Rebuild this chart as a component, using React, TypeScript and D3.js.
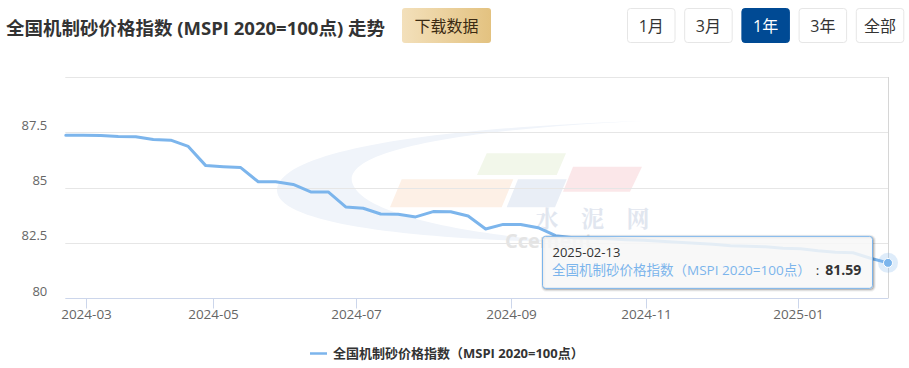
import React from 'react';
import * as d3 from 'd3';

// ---- data ----
const dates = [
  '2024-02-22', '2024-02-29', '2024-03-07', '2024-03-14', '2024-03-21', '2024-03-28',
  '2024-04-11', '2024-04-18', '2024-04-25', '2024-05-09', '2024-05-16', '2024-05-23',
  '2024-05-30', '2024-06-06', '2024-06-13', '2024-06-20', '2024-06-27', '2024-07-04',
  '2024-07-11', '2024-07-18', '2024-07-25', '2024-08-01', '2024-08-08', '2024-08-15',
  '2024-08-22', '2024-08-29', '2024-09-05', '2024-09-12', '2024-09-19', '2024-09-26',
  '2024-10-10', '2024-10-17', '2024-10-24', '2024-10-31', '2024-11-07', '2024-11-14',
  '2024-11-21', '2024-11-28', '2024-12-05', '2024-12-12', '2024-12-19', '2024-12-26',
  '2025-01-02', '2025-01-09', '2025-01-16', '2025-01-23', '2025-02-06', '2025-02-13',
];
const values = [
  87.36, 87.36, 87.35, 87.31, 87.30, 87.17,
  87.14, 86.86, 85.99, 85.94, 85.90, 85.26,
  85.26, 85.14, 84.80, 84.80, 84.12, 84.06,
  83.80, 83.79, 83.67, 83.91, 83.90, 83.71,
  83.12, 83.33, 83.33, 83.18, 82.82, 82.73,
  82.70, 82.68, 82.64, 82.61, 82.57, 82.52,
  82.48, 82.43, 82.36, 82.34, 82.32, 82.25,
  82.23, 82.14, 82.07, 82.05, 81.80, 81.59,
];
const yTicks = [80, 82.5, 85, 87.5, 90];
const yTickLabels = ['80', '82.5', '85', '87.5', ''];
const xTickMonths = ['2024-03', '2024-05', '2024-07', '2024-09', '2024-11', '2025-01'];
const seriesName = '全国机制砂价格指数（MSPI 2020=100点）';
const titleText = '全国机制砂价格指数 (MSPI 2020=100点) 走势';
const downloadText = '下载数据';
const rangeButtons = ['1月', '3月', '1年', '3年', '全部'];
const activeRange = '1年';
const watermarkChars = ['水', '泥', '网'];

// ---- layout ----
const W = 909;
const H = 368;
const plot = { left: 65.8, right: 888, top: 77, bottom: 298 };
const FONT = '"Open Sans", "Noto Sans CJK SC", sans-serif';
const LINE = '#7cb5ec';

export default function App() {
  const times = dates.map((d) => Date.parse(d));
  const x = d3.scaleLinear().domain([0, dates.length - 1]).range([plot.left, plot.right]);
  const y = d3.scaleLinear().domain([80, 90]).range([plot.bottom, plot.top]);

  // ordinal (point-index) position of a calendar date, interpolated between data dates
  const ordinalPos = (m: string) => {
    const t = Date.parse(m + '-01');
    for (let i = 0; i < times.length - 1; i++) {
      if (t >= times[i] && t <= times[i + 1]) {
        return i + (t - times[i]) / (times[i + 1] - times[i]);
      }
    }
    return 0;
  };

  const linePath = d3
    .line<number>()
    .x((_, i) => x(i))
    .y((v) => y(v))(values) as string;

  const lastI = values.length - 1;
  const px = x(lastI);
  const py = y(values[lastI]);
  const tipW = 330;
  const tipH = 52;
  const tipX = px - 345.5;
  const tipY = py - 26.5;

  return (
    <svg
      width={W}
      height={H}
      style={{ position: 'absolute', left: 0, top: 0, background: '#fff' }}
      fontFamily={FONT}
    >
      {/* header */}
      <text x={6} y={35} fontSize={18.5} fontWeight="bold" fill="#333">
        {titleText}
      </text>
      <defs>
        <linearGradient id="dlg" x1="0" x2="1" y1="0" y2="0">
          <stop offset="0%" stopColor="#f3e0bb" />
          <stop offset="100%" stopColor="#e3c280" />
        </linearGradient>
      </defs>
      <rect x={402} y={8} width={89} height={35} rx={3} fill="url(#dlg)" />
      <text x={446.5} y={26} fontSize={16} fill="#3b2a12" textAnchor="middle" dominantBaseline="central">
        {downloadText}
      </text>
      {rangeButtons.map((b, i) => {
        const bx = 627.5 + i * 57.2;
        const active = b === activeRange;
        return (
          <g key={b}>
            <rect
              x={bx}
              y={8.5}
              width={47.5}
              height={34}
              rx={3}
              fill={active ? '#004a94' : '#fff'}
              stroke={active ? '#004a94' : '#e6e6e6'}
            />
            <text
              x={bx + 23.75}
              y={25.5}
              fontSize={16}
              fill={active ? '#fff' : '#333'}
              textAnchor="middle"
              dominantBaseline="central"
            >
              {b}
            </text>
          </g>
        );
      })}

      {/* watermark */}
      <g>
        <path
          d="M 277 190 C 280 152, 420 128, 645 121 C 480 128, 345 148, 352 182 C 360 212, 450 232, 565 242 C 430 240, 276 226, 277 190 Z"
          fill="#f0f4fa"
        />
        <polygon points="401.7,179.3 513.3,179.3 501.7,207.3 390,207.3" fill="#fdf0e6" />
        <polygon points="486.7,153.3 566,153.3 556.7,175 477,175" fill="#f2f7ea" />
        <polygon points="518,179.3 566.7,179.3 555,207.3 506.7,207.3" fill="#e9eef6" />
        <polygon points="573,166.7 642,166.7 630,191.7 563,191.7" fill="#fbe7e9" />
        {watermarkChars.map((c, i) => (
          <text
            key={c}
            x={547 + i * 45.5}
            y={227}
            fontSize={23}
            fontWeight="bold"
            fill="#e1e6ef"
            textAnchor="middle"
            fontFamily='"Noto Serif CJK SC", "Noto Sans CJK SC", serif'
          >
            {c}
          </text>
        ))}
        <text x={505} y={248} fontSize={20} fontWeight="bold" fill="#e4e4e4">
          Ccement
        </text>
      </g>

      {/* grid */}
      {yTicks.map((v, i) => (
        <g key={v}>
          {i > 0 && (
            <line x1={plot.left - 0.5} x2={plot.right + 0.5} y1={Math.round(y(v)) + 0.5} y2={Math.round(y(v)) + 0.5} stroke="#e6e6e6" />
          )}
          <text x={47.3} y={y(v) - 2.5} fontSize={13} fill="#666" textAnchor="end">
            {yTickLabels[i]}
          </text>
        </g>
      ))}

      {/* x axis */}
      <line x1={plot.left - 0.5} x2={plot.right + 0.5} y1={298.5} y2={298.5} stroke="#ccd6eb" />
      {xTickMonths.map((m) => {
        const tx = Math.round(x(ordinalPos(m))) + 0.5;
        return (
          <g key={m}>
            <line x1={tx} x2={tx} y1={298.5} y2={308.5} stroke="#ccd6eb" />
            <text x={tx} y={319} fontSize={13.5} fill="#666" textAnchor="middle">
              {m}
            </text>
          </g>
        );
      })}

      {/* crosshair */}
      <line x1={Math.round(px) + 0.5} x2={Math.round(px) + 0.5} y1={plot.top} y2={plot.bottom} stroke="#d6d6d6" />

      {/* series */}
      <path d={linePath} fill="none" stroke={LINE} strokeWidth={3} strokeLinejoin="round" strokeLinecap="round" />
      <circle cx={px} cy={py} r={10} fill={LINE} opacity={0.25} />
      <circle cx={px} cy={py} r={4.5} fill={LINE} stroke="#fff" strokeWidth={1} />

      {/* tooltip */}
      <g>
        <rect x={tipX + 1} y={tipY + 1} width={tipW} height={tipH} rx={3} fill="none" stroke="#000" strokeOpacity={0.05} strokeWidth={5} />
        <rect x={tipX + 1} y={tipY + 1} width={tipW} height={tipH} rx={3} fill="none" stroke="#000" strokeOpacity={0.1} strokeWidth={3} />
        <rect x={tipX + 1} y={tipY + 1} width={tipW} height={tipH} rx={3} fill="none" stroke="#000" strokeOpacity={0.15} strokeWidth={1} />
        <rect x={tipX} y={tipY} width={tipW} height={tipH} rx={3} fill="rgba(247,247,247,0.85)" stroke={LINE} strokeWidth={1} />
        <text x={tipX + 10} y={tipY + 20.5} fontSize={13} fill="#333">
          {dates[lastI]}
        </text>
        <text x={tipX + 9.5} y={tipY + 39} fontSize={13.5}>
          <tspan fill={LINE}>{seriesName}</tspan>
          <tspan fill="#333" dx={5}>:</tspan>
          <tspan fill="#333" fontWeight="bold" fontSize={14} dx={6}>{values[lastI].toFixed(2)}</tspan>
        </text>
      </g>

      {/* legend */}
      <line x1={310} x2={327} y1={353.5} y2={353.5} stroke={LINE} strokeWidth={2.5} />
      <text x={333} y={358} fontSize={13} fontWeight="bold" fill="#333">
        {seriesName}
      </text>
    </svg>
  );
}
